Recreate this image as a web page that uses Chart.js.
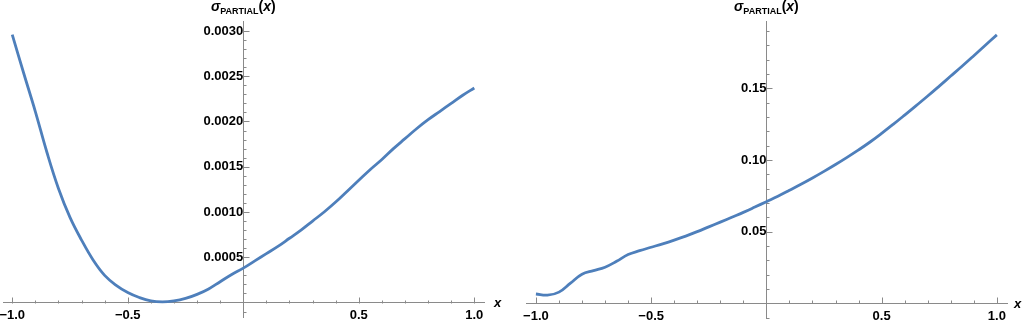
<!DOCTYPE html>
<html><head><meta charset="utf-8">
<script src="https://cdn.jsdelivr.net/npm/chart.js@4.4.0/dist/chart.umd.min.js"></script>
<style>
html,body{margin:0;padding:0;background:#fff;width:1024px;height:320px;overflow:hidden}
#w{position:relative;width:1024px;height:320px}
canvas{position:absolute;top:0}
#c1{left:0}#c2{left:512px}
</style></head><body>
<div id="w"><canvas id="c1" width="512" height="320"></canvas><canvas id="c2" width="512" height="320"></canvas></div>
<script>
const xValues = [-1.00,-0.95,-0.90,-0.85,-0.80,-0.75,-0.70,-0.65,-0.60,-0.55,-0.50,-0.45,-0.40,-0.35,-0.30,-0.25,-0.20,-0.15,-0.10,-0.05,0.00,0.05,0.10,0.15,0.20,0.25,0.30,0.35,0.40,0.45,0.50,0.55,0.60,0.65,0.70,0.75,0.80,0.85,0.90,0.95,1.00];
const leftSigma = [0.00296,0.00253,0.00211,0.00166,0.00126,0.00094,0.00069,0.00047,0.00030,0.00019,0.00011,0.000055,0.000018,0.000008,0.000018,0.000045,0.00009,0.00015,0.00023,0.00031,0.00038,0.00046,0.00054,0.00062,0.00071,0.00080,0.00090,0.00100,0.00111,0.00123,0.00135,0.00147,0.00158,0.00170,0.00181,0.00192,0.00202,0.00211,0.00220,0.00229,0.00237];
const rightSigma = [0.0065,0.0057,0.0078,0.0141,0.0203,0.0228,0.0252,0.0293,0.0340,0.0367,0.0391,0.0415,0.0441,0.0469,0.0500,0.0533,0.0566,0.0600,0.0634,0.0671,0.0709,0.0747,0.0788,0.0830,0.0874,0.0920,0.0968,0.1018,0.1070,0.1125,0.1185,0.1248,0.1313,0.1379,0.1446,0.1515,0.1585,0.1655,0.1727,0.1800,0.1872];

const xTickValues = [-1.0,-0.5,0.5,1.0];
const xTickLabels = ['\u22121.0','\u22120.5','0.5','1.0'];
const xMinorTicks = [-1.0,-0.9,-0.8,-0.7,-0.6,-0.5,-0.4,-0.3,-0.2,-0.1,0.1,0.2,0.3,0.4,0.5,0.6,0.7,0.8,0.9,1.0];

const leftYTickValues = [0.0005,0.0010,0.0015,0.0020,0.0025,0.0030];
const leftYTickLabels = ['0.0005','0.0010','0.0015','0.0020','0.0025','0.0030'];
const leftYMinorTicks = [-0.0001,0.0001,0.0002,0.0003,0.0004,0.0005,0.0006,0.0007,0.0008,0.0009,0.0010,0.0011,0.0012,0.0013,0.0014,0.0015,0.0016,0.0017,0.0018,0.0019,0.0020,0.0021,0.0022,0.0023,0.0024,0.0025,0.0026,0.0027,0.0028,0.0029,0.0030];

const rightYTickValues = [0.05,0.10,0.15];
const rightYTickLabels = ['0.05','0.10','0.15'];
const rightYMinorTicks = [-0.01,0.01,0.02,0.03,0.04,0.05,0.06,0.07,0.08,0.09,0.10,0.11,0.12,0.13,0.14,0.15,0.16,0.17,0.18,0.19];

const LINE = 'rgb(78,127,187)';
const AXIS = '#8a8a8a';
const FONT = '"Liberation Sans", Arial, sans-serif';

function zeroPad(s){ s.paddingLeft=0; s.paddingRight=0; s.paddingTop=0; s.paddingBottom=0; }

const tickPlugin = {
  id: 'mmaTicks',
  beforeDatasetsDraw(chart, args, o) {
    const ctx = chart.ctx, x = chart.scales.x, y = chart.scales.y;
    const x0 = Math.round(x.getPixelForValue(0)) + 0.5;
    const y0 = Math.round(y.getPixelForValue(0)) + 0.5;
    ctx.save();
    ctx.strokeStyle = AXIS; ctx.lineWidth = 1;
    ctx.beginPath();
    o.xMinor.forEach(v => {
      const px = Math.round(x.getPixelForValue(v)) + 0.5;
      const len = o.xMajor.some(m => Math.abs(m - v) < 1e-9) ? 6 : 3;
      ctx.moveTo(px, y0); ctx.lineTo(px, y0 - len);
    });
    o.yMinor.forEach(v => {
      const py = Math.round(y.getPixelForValue(v)) + 0.5;
      const len = o.yMajor.some(m => Math.abs(m - v) < 1e-12) ? 6 : 3;
      ctx.moveTo(x0, py); ctx.lineTo(x0 + len, py);
    });
    ctx.stroke();
    ctx.restore();
  },
  afterDraw(chart, args, o) {
    const ctx = chart.ctx, x = chart.scales.x, y = chart.scales.y;
    const x0 = x.getPixelForValue(0);
    const y0 = y.getPixelForValue(0);
    ctx.save();
    ctx.fillStyle = '#000';
    ctx.textBaseline = 'alphabetic';
    const parts = [
      {t:'\u03c3', f:'italic bold 14px ' + FONT, dy:0},
      {t:'PARTIAL', f:'bold 9px ' + FONT, dy:3},
      {t:'(', f:'bold 14px ' + FONT, dy:0},
      {t:'x', f:'italic bold 14px ' + FONT, dy:0},
      {t:')', f:'bold 14px ' + FONT, dy:0}
    ];
    let total = 0;
    parts.forEach(p => { ctx.font = p.f; p.w = ctx.measureText(p.t).width; total += p.w; });
    let cx = x0 - total / 2;
    const base = 11;
    parts.forEach(p => { ctx.font = p.f; ctx.fillText(p.t, cx, base + p.dy); cx += p.w; });
    ctx.font = 'italic bold 13px ' + FONT;
    ctx.textBaseline = 'middle';
    ctx.fillText('x', chart.chartArea.right + o.xTitleGap, y0 + 1);
    ctx.restore();
  }
};

function makeChart(id, values, cfg) {
  return new Chart(document.getElementById(id), {
    type: 'line',
    data: { datasets: [{
      data: xValues.map((xv, i) => ({x: xv, y: values[i]})),
      borderColor: LINE, borderWidth: 2.8, pointRadius: 0,
      tension: 0.4, fill: false
    }]},
    options: {
      responsive: false, animation: false, events: [],
      layout: { padding: cfg.padding },
      plugins: {
        legend: {display: false}, tooltip: {enabled: false},
        mmaTicks: { xMinor: xMinorTicks, xMajor: xTickValues, yMinor: cfg.yMinor, yMajor: cfg.yTicks, xTitleGap: cfg.xTitleGap }
      },
      scales: {
        x: {
          type: 'linear', min: cfg.xMin, max: cfg.xMax, position: {y: 0},
          grid: {display: false, drawTicks: false},
          border: {display: true, color: AXIS, width: 1},
          afterBuildTicks: s => { s.ticks = xTickValues.map(v => ({value: v})); },
          afterFit: zeroPad,
          ticks: { autoSkip: false, maxRotation: 0, minRotation: 0, padding: 5, color: '#000',
            font: {family: FONT, size: 13, weight: 'bold'},
            callback: (v, i) => xTickLabels[i] }
        },
        y: {
          type: 'linear', min: cfg.yMin, max: cfg.yMax, position: {x: 0},
          grid: {display: false, drawTicks: false},
          border: {display: true, color: AXIS, width: 1},
          afterBuildTicks: s => { s.ticks = cfg.yTicks.map(v => ({value: v})); },
          afterFit: zeroPad,
          ticks: { autoSkip: false, padding: 4, color: '#000',
            font: {family: FONT, size: 13, weight: 'bold'},
            callback: (v, i) => cfg.yLabels[i] }
        }
      }
    },
    plugins: [tickPlugin]
  });
}

makeChart('c1', leftSigma, {
  padding: {left: 3, right: 28, top: 21, bottom: 3},
  xMin: -1.04, xMax: 1.042, yMin: -0.00016, yMax: 0.00311,
  yTicks: leftYTickValues, yLabels: leftYTickLabels, yMinor: leftYMinorTicks, xTitleGap: 10
});
makeChart('c2', rightSigma, {
  padding: {left: 14, right: 17, top: 21, bottom: 2},
  xMin: -1.043, xMax: 1.044, yMin: -0.01025, yMax: 0.1969,
  yTicks: rightYTickValues, yLabels: rightYTickLabels, yMinor: rightYMinorTicks, xTitleGap: 7
});
</script>
</body></html>
